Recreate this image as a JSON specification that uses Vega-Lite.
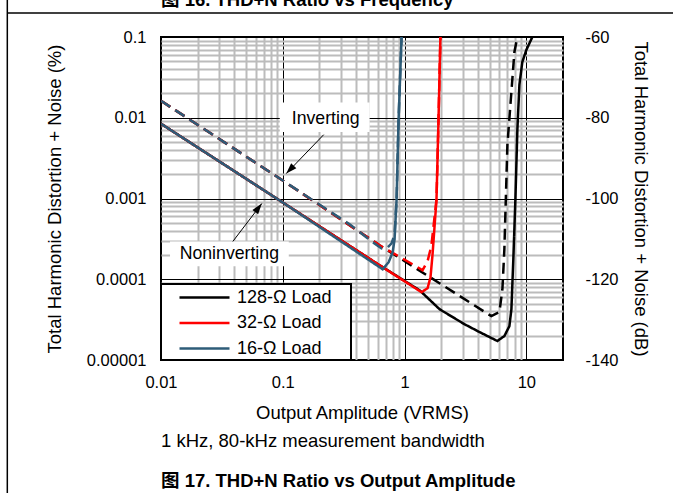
{
  "$schema": "https://vega.github.io/schema/vega-lite/v6.json",
  "autosize": {"type": "none"},
  "width": 402,
  "height": 323,
  "padding": {"left": 161, "top": 37, "right": 110, "bottom": 133},
  "background": "white",
  "config": {
    "font": "Liberation Sans",
    "view": {"stroke": "black", "strokeWidth": 2},
    "axis": {"labelColor": "black", "titleColor": "black", "labelFont": "Liberation Sans", "titleFont": "Liberation Sans"},
    "legend": {"strokeWidth": 2}
  },
  "title": {
    "text": "1 kHz, 80-kHz measurement bandwidth",
    "subtitle": "图 17. THD+N Ratio vs Output Amplitude",
    "orient": "bottom",
    "anchor": "start",
    "frame": "group",
    "offset": -90,
    "fontSize": 18.5,
    "fontWeight": "normal",
    "color": "black",
    "font": "Liberation Sans, Noto Sans CJK SC",
    "subtitleFont": "Liberation Sans, Noto Sans CJK SC",
    "subtitleFontSize": 18.5,
    "subtitleFontWeight": "bold",
    "subtitleColor": "black",
    "subtitlePadding": 21
  },
  "layer": [
    {
      "layer": [
        {
          "data": {"values": [{}]},
          "mark": {"type": "rule", "color": "black", "strokeWidth": 1.5},
          "encoding": {
            "x": {"datum": 0.000547, "type": "quantitative", "scale": {"type": "log", "domain": [0.01, 20], "nice": false}},
            "x2": {"datum": 200},
            "y": {"datum": 0.1978, "type": "quantitative", "scale": {"type": "log", "domain": [0.00001, 0.1], "nice": false}}
          }
        },
        {
          "data": {"values": [{}]},
          "mark": {"type": "rule", "color": "black", "strokeWidth": 1.5},
          "encoding": {
            "x": {"datum": 0.000547, "type": "quantitative", "scale": {"type": "log", "domain": [0.01, 20], "nice": false}},
            "y": {"datum": 0.5, "type": "quantitative", "scale": {"type": "log", "domain": [0.00001, 0.1], "nice": false}},
            "y2": {"datum": 0.0000001}
          }
        },
        {
          "data": {"values": [{}]},
          "mark": {"type": "text", "text": "图 16. THD+N Ratio vs Frequency", "align": "left", "baseline": "alphabetic", "font": "Liberation Sans, Noto Sans CJK SC", "fontSize": 18.5, "fontWeight": "bold", "color": "black"},
          "encoding": {
            "x": {"datum": 0.01, "type": "quantitative", "scale": {"type": "log", "domain": [0.01, 20], "nice": false}},
            "y": {"datum": 0.24, "type": "quantitative", "scale": {"type": "log", "domain": [0.00001, 0.1], "nice": false}}
          }
        },
        {
          "data": {"values": [
            {"load": "128-Ω Load", "cfg": "Noninverting", "x": 0.01, "y": 0.00843},
            {"load": "128-Ω Load", "cfg": "Noninverting", "x": 0.1, "y": 0.000893},
            {"load": "128-Ω Load", "cfg": "Noninverting", "x": 0.624, "y": 0.000149},
            {"load": "128-Ω Load", "cfg": "Noninverting", "x": 1.327, "y": 0.0000731},
            {"load": "128-Ω Load", "cfg": "Noninverting", "x": 1.936, "y": 0.0000426},
            {"load": "128-Ω Load", "cfg": "Noninverting", "x": 3.1, "y": 0.0000278},
            {"load": "128-Ω Load", "cfg": "Noninverting", "x": 4.12, "y": 0.0000222},
            {"load": "128-Ω Load", "cfg": "Noninverting", "x": 5.78, "y": 0.0000172},
            {"load": "128-Ω Load", "cfg": "Noninverting", "x": 6.6, "y": 0.0000198},
            {"load": "128-Ω Load", "cfg": "Noninverting", "x": 7.26, "y": 0.0000263},
            {"load": "128-Ω Load", "cfg": "Noninverting", "x": 7.54, "y": 0.0000426},
            {"load": "128-Ω Load", "cfg": "Noninverting", "x": 7.82, "y": 0.000177},
            {"load": "128-Ω Load", "cfg": "Noninverting", "x": 8.13, "y": 0.000972},
            {"load": "128-Ω Load", "cfg": "Noninverting", "x": 8.44, "y": 0.00711},
            {"load": "128-Ω Load", "cfg": "Noninverting", "x": 8.77, "y": 0.0256},
            {"load": "128-Ω Load", "cfg": "Noninverting", "x": 9.27, "y": 0.0491},
            {"load": "128-Ω Load", "cfg": "Noninverting", "x": 10, "y": 0.0691},
            {"load": "128-Ω Load", "cfg": "Noninverting", "x": 11.2, "y": 0.1},
            {"load": "128-Ω Load", "cfg": "Inverting", "x": 0.01, "y": 0.0162},
            {"load": "128-Ω Load", "cfg": "Inverting", "x": 0.1, "y": 0.00167},
            {"load": "128-Ω Load", "cfg": "Inverting", "x": 0.624, "y": 0.000263},
            {"load": "128-Ω Load", "cfg": "Inverting", "x": 1.936, "y": 0.0000893},
            {"load": "128-Ω Load", "cfg": "Inverting", "x": 5.16, "y": 0.0000349},
            {"load": "128-Ω Load", "cfg": "Inverting", "x": 6.01, "y": 0.0000392},
            {"load": "128-Ω Load", "cfg": "Inverting", "x": 6.36, "y": 0.0000753},
            {"load": "128-Ω Load", "cfg": "Inverting", "x": 6.6, "y": 0.000234},
            {"load": "128-Ω Load", "cfg": "Inverting", "x": 6.99, "y": 0.00464},
            {"load": "128-Ω Load", "cfg": "Inverting", "x": 7.54, "y": 0.021},
            {"load": "128-Ω Load", "cfg": "Inverting", "x": 7.98, "y": 0.0653},
            {"load": "128-Ω Load", "cfg": "Inverting", "x": 8.44, "y": 0.1},
            {"load": "32-Ω Load", "cfg": "Noninverting", "x": 0.01, "y": 0.00843},
            {"load": "32-Ω Load", "cfg": "Noninverting", "x": 0.1, "y": 0.000893},
            {"load": "32-Ω Load", "cfg": "Noninverting", "x": 0.624, "y": 0.000149},
            {"load": "32-Ω Load", "cfg": "Noninverting", "x": 1.378, "y": 0.0000692},
            {"load": "32-Ω Load", "cfg": "Noninverting", "x": 1.545, "y": 0.0000774},
            {"load": "32-Ω Load", "cfg": "Noninverting", "x": 1.633, "y": 0.000106},
            {"load": "32-Ω Load", "cfg": "Noninverting", "x": 1.698, "y": 0.000204},
            {"load": "32-Ω Load", "cfg": "Noninverting", "x": 1.829, "y": 0.000972},
            {"load": "32-Ω Load", "cfg": "Noninverting", "x": 1.9, "y": 0.00945},
            {"load": "32-Ω Load", "cfg": "Noninverting", "x": 1.97, "y": 0.1},
            {"load": "32-Ω Load", "cfg": "Inverting", "x": 0.01, "y": 0.0162},
            {"load": "32-Ω Load", "cfg": "Inverting", "x": 0.1, "y": 0.00167},
            {"load": "32-Ω Load", "cfg": "Inverting", "x": 0.624, "y": 0.000263},
            {"load": "32-Ω Load", "cfg": "Inverting", "x": 1.279, "y": 0.000141},
            {"load": "32-Ω Load", "cfg": "Inverting", "x": 1.405, "y": 0.000129},
            {"load": "32-Ω Load", "cfg": "Inverting", "x": 1.545, "y": 0.000167},
            {"load": "32-Ω Load", "cfg": "Inverting", "x": 1.66, "y": 0.00026},
            {"load": "32-Ω Load", "cfg": "Inverting", "x": 1.829, "y": 0.000972},
            {"load": "32-Ω Load", "cfg": "Inverting", "x": 1.9, "y": 0.00945},
            {"load": "32-Ω Load", "cfg": "Inverting", "x": 1.97, "y": 0.1},
            {"load": "16-Ω Load", "cfg": "Noninverting", "x": 0.01, "y": 0.00843},
            {"load": "16-Ω Load", "cfg": "Noninverting", "x": 0.1, "y": 0.000893},
            {"load": "16-Ω Load", "cfg": "Noninverting", "x": 0.661, "y": 0.000133},
            {"load": "16-Ω Load", "cfg": "Noninverting", "x": 0.739, "y": 0.000162},
            {"load": "16-Ω Load", "cfg": "Noninverting", "x": 0.798, "y": 0.000215},
            {"load": "16-Ω Load", "cfg": "Noninverting", "x": 0.828, "y": 0.000312},
            {"load": "16-Ω Load", "cfg": "Noninverting", "x": 0.86, "y": 0.000972},
            {"load": "16-Ω Load", "cfg": "Noninverting", "x": 0.893, "y": 0.00945},
            {"load": "16-Ω Load", "cfg": "Noninverting", "x": 0.945, "y": 0.1},
            {"load": "16-Ω Load", "cfg": "Inverting", "x": 0.01, "y": 0.0162},
            {"load": "16-Ω Load", "cfg": "Inverting", "x": 0.1, "y": 0.00167},
            {"load": "16-Ω Load", "cfg": "Inverting", "x": 0.354, "y": 0.000478},
            {"load": "16-Ω Load", "cfg": "Inverting", "x": 0.537, "y": 0.000294},
            {"load": "16-Ω Load", "cfg": "Inverting", "x": 0.648, "y": 0.000241},
            {"load": "16-Ω Load", "cfg": "Inverting", "x": 0.726, "y": 0.000248},
            {"load": "16-Ω Load", "cfg": "Inverting", "x": 0.782, "y": 0.000278},
            {"load": "16-Ω Load", "cfg": "Inverting", "x": 0.828, "y": 0.000359},
            {"load": "16-Ω Load", "cfg": "Inverting", "x": 0.86, "y": 0.000972},
            {"load": "16-Ω Load", "cfg": "Inverting", "x": 0.893, "y": 0.00945},
            {"load": "16-Ω Load", "cfg": "Inverting", "x": 0.945, "y": 0.1}
          ]},
          "mark": {"type": "line", "strokeWidth": 2.5, "clip": true},
          "encoding": {
            "x": {
              "field": "x", "type": "quantitative",
              "scale": {"type": "log", "domain": [0.01, 20], "nice": false},
              "axis": {
                "values": [0.01,0.02,0.03,0.04,0.05,0.06,0.07,0.08,0.09,0.1,0.2,0.3,0.4,0.5,0.6,0.7,0.8,0.9,1,2,3,4,5,6,7,8,9,10],
                "grid": true,
                "gridColor": {"condition": {"test": "indexof([0.01,0.1,1,10], datum.value) >= 0", "value": "#000000"}, "value": "#bcbcbc"},
                "gridWidth": {"condition": {"test": "indexof([0.01,0.1,1,10], datum.value) >= 0", "value": 1}, "value": 2},
                "ticks": false,
                "domain": false,
                "format": "~f",
                "labelExpr": "indexof([0.01,0.1,1,10], datum.value) >= 0 ? datum.label : ''",
                "labelFlush": false,
                "labelOverlap": false,
                "labelBound": false,
                "labelFontSize": 16.5,
                "labelPadding": 14,
                "title": "Output Amplitude (VRMS)",
                "titleFontSize": 18.5,
                "titleFontWeight": "normal",
                "titlePadding": 13
              }
            },
            "y": {
              "field": "y", "type": "quantitative",
              "scale": {"type": "log", "domain": [0.00001, 0.1], "nice": false},
              "axis": {
                "values": [0.00001,0.00002,0.00003,0.00004,0.00005,0.00006,0.00007,0.00008,0.00009,0.0001,0.0002,0.0003,0.0004,0.0005,0.0006,0.0007,0.0008,0.0009,0.001,0.002,0.003,0.004,0.005,0.006,0.007,0.008,0.009,0.01,0.02,0.03,0.04,0.05,0.06,0.07,0.08,0.09,0.1],
                "grid": true,
                "gridColor": {"condition": {"test": "indexof([0.00001,0.0001,0.001,0.01,0.1], datum.value) >= 0", "value": "#000000"}, "value": "#bcbcbc"},
                "gridWidth": {"condition": {"test": "indexof([0.00001,0.0001,0.001,0.01,0.1], datum.value) >= 0", "value": 1}, "value": 2},
                "ticks": false,
                "domain": false,
                "format": "~f",
                "labelExpr": "indexof([0.00001,0.0001,0.001,0.01,0.1], datum.value) >= 0 ? datum.label : ''",
                "labelFlush": false,
                "labelOverlap": false,
                "labelBound": false,
                "labelFontSize": 16.5,
                "labelPadding": 15,
                "title": "Total Harmonic Distortion + Noise (%)",
                "titleFontSize": 18.5,
                "titleFontWeight": "normal",
                "titlePadding": 22
              }
            },
            "color": {
              "field": "load", "type": "nominal",
              "scale": {"domain": ["128-Ω Load", "32-Ω Load", "16-Ω Load"], "range": ["#000000", "#ff0000", "#2e5c78"]},
              "legend": {
                "orient": "bottom-left",
                "offset": 0,
                "title": "MM",
                "titleOrient": "right",
                "titleColor": "white",
                "titleFontSize": 7,
                "titlePadding": 5,
                "fillColor": "white",
                "strokeColor": "black",
                "padding": 2,
                "symbolType": "M-2.5,0H2.5",
                "symbolSize": 400,
                "symbolStrokeWidth": 2.5,
                "symbolOffset": 30,
                "labelFontSize": 18,
                "labelColor": "black",
                "labelOffset": 21,
                "rowPadding": 4.5
              }
            },
            "strokeDash": {
              "field": "cfg", "type": "nominal",
              "scale": {"domain": ["Noninverting", "Inverting"], "range": [[1, 0], [11, 6]]},
              "legend": null
            }
          }
        },
        {
          "data": {"values": [{}]},
          "mark": {"type": "rect", "color": "white"},
          "encoding": {
            "x": {"datum": 0.0945, "type": "quantitative", "scale": {"type": "log", "domain": [0.01, 20], "nice": false}},
            "x2": {"datum": 0.5165},
            "y": {"datum": 0.01545, "type": "quantitative", "scale": {"type": "log", "domain": [0.00001, 0.1], "nice": false}},
            "y2": {"datum": 0.00666}
          }
        },
        {
          "data": {"values": [{}]},
          "mark": {"type": "rect", "color": "white"},
          "encoding": {
            "x": {"datum": 0.01186, "type": "quantitative", "scale": {"type": "log", "domain": [0.01, 20], "nice": false}},
            "x2": {"datum": 0.112},
            "y": {"datum": 0.000294, "type": "quantitative", "scale": {"type": "log", "domain": [0.00001, 0.1], "nice": false}},
            "y2": {"datum": 0.0001445}
          }
        },
        {
          "data": {"values": [{}]},
          "mark": {"type": "rule", "color": "black", "strokeWidth": 1},
          "encoding": {
            "x": {"datum": 0.2168, "type": "quantitative", "scale": {"type": "log", "domain": [0.01, 20], "nice": false}},
            "y": {"datum": 0.00617, "type": "quantitative", "scale": {"type": "log", "domain": [0.00001, 0.1], "nice": false}},
            "x2": {"datum": 0.1068},
            "y2": {"datum": 0.002035}
          }
        },
        {
          "data": {"values": [{}]},
          "mark": {"type": "point", "shape": "M0,0L0.6,1.8L-0.6,1.8Z", "size": 144, "filled": true, "color": "black", "opacity": 1, "angle": 223.9},
          "encoding": {
            "x": {"datum": 0.1068, "type": "quantitative", "scale": {"type": "log", "domain": [0.01, 20], "nice": false}},
            "y": {"datum": 0.002035, "type": "quantitative", "scale": {"type": "log", "domain": [0.00001, 0.1], "nice": false}}
          }
        },
        {
          "data": {"values": [{}]},
          "mark": {"type": "rule", "color": "black", "strokeWidth": 1},
          "encoding": {
            "x": {"datum": 0.0389, "type": "quantitative", "scale": {"type": "log", "domain": [0.01, 20], "nice": false}},
            "y": {"datum": 0.000294, "type": "quantitative", "scale": {"type": "log", "domain": [0.00001, 0.1], "nice": false}},
            "x2": {"datum": 0.0673},
            "y2": {"datum": 0.000867}
          }
        },
        {
          "data": {"values": [{}]},
          "mark": {"type": "point", "shape": "M0,0L0.6,1.8L-0.6,1.8Z", "size": 144, "filled": true, "color": "black", "opacity": 1, "angle": 37.4},
          "encoding": {
            "x": {"datum": 0.0673, "type": "quantitative", "scale": {"type": "log", "domain": [0.01, 20], "nice": false}},
            "y": {"datum": 0.000867, "type": "quantitative", "scale": {"type": "log", "domain": [0.00001, 0.1], "nice": false}}
          }
        },
        {
          "data": {"values": [{}]},
          "mark": {"type": "text", "text": "Inverting", "align": "center", "baseline": "middle", "fontSize": 17.7, "color": "black"},
          "encoding": {
            "x": {"datum": 0.225, "type": "quantitative", "scale": {"type": "log", "domain": [0.01, 20], "nice": false}},
            "y": {"datum": 0.00972, "type": "quantitative", "scale": {"type": "log", "domain": [0.00001, 0.1], "nice": false}}
          }
        },
        {
          "data": {"values": [{}]},
          "mark": {"type": "text", "text": "Noninverting", "align": "center", "baseline": "middle", "fontSize": 17.7, "color": "black"},
          "encoding": {
            "x": {"datum": 0.0364, "type": "quantitative", "scale": {"type": "log", "domain": [0.01, 20], "nice": false}},
            "y": {"datum": 0.000207, "type": "quantitative", "scale": {"type": "log", "domain": [0.00001, 0.1], "nice": false}}
          }
        }
      ]
    },
    {
      "data": {"values": [{}]},
      "mark": {"type": "rule", "opacity": 0},
      "encoding": {
        "y": {
          "datum": -100, "type": "quantitative",
          "scale": {"domain": [-140, -60], "nice": false, "zero": false},
          "axis": {
            "orient": "right",
            "values": [-140, -120, -100, -80, -60],
            "grid": false,
            "ticks": false,
            "domain": false,
            "labelExpr": "'' + datum.value",
            "labelFontSize": 16.5,
            "labelPadding": 22,
            "labelFlush": false,
            "labelOverlap": false,
            "title": "Total Harmonic Distortion + Noise (dB)",
            "titleFontSize": 18.5,
            "titleFontWeight": "normal",
            "titlePadding": 12
          }
        }
      }
    }
  ],
  "resolve": {"scale": {"y": "independent"}}
}
